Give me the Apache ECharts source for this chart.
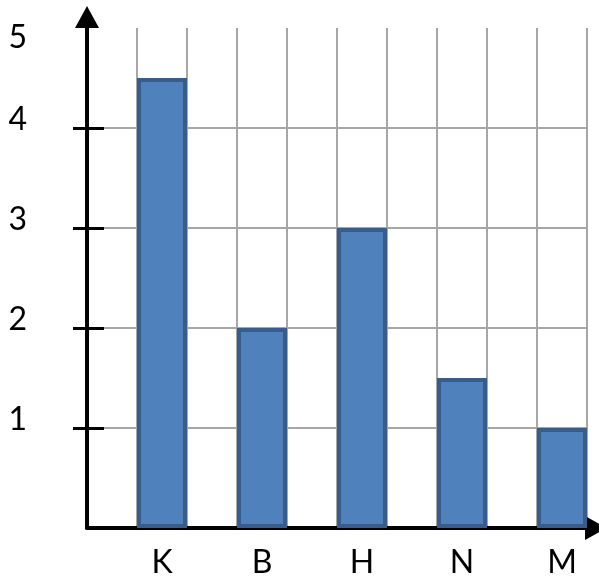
<!DOCTYPE html>
<html><head><meta charset="utf-8">
<script src="https://cdn.jsdelivr.net/npm/echarts@6/dist/echarts.min.js"></script>
<style>html,body{margin:0;padding:0;background:#fff}#c{width:599px;height:581px}</style>
</head><body><div id="c"></div>
<script>
const categories = ['K', 'B', 'H', 'N', 'M'];
const values = [4.5, 2, 3, 1.5, 1];
const yTickLabels = [1, 2, 3, 4, 5];
const yTicks = [1, 2, 3, 4];

// each category occupies two grid columns; bar centred in the second-and-first half
const xPos = categories.map((c, i) => 1.5 + 2 * i);
const barData = values.map((v, i) => [xPos[i], v]);

const chart = echarts.init(document.getElementById('c'), null, {renderer: 'canvas'});
const grey = '#a6a6a6';
const font = 'Lato';
chart.setOption({
  animation: false,
  grid: {left: 87, top: 28, width: 500, height: 500},
  xAxis: {
    type: 'value', min: 0, max: 10, interval: 1,
    axisLine: {show: true, lineStyle: {color: '#000', width: 4},
      symbol: ['none', 'triangle'], symbolSize: [24, 22], symbolOffset: [0, 9]},
    axisTick: {show: false},
    splitLine: {show: true, lineStyle: {color: grey, width: 2}},
    axisLabel: {
      customValues: xPos,
      formatter: v => categories[xPos.indexOf(v)] || '',
      color: '#000', fontFamily: font, fontSize: 32, margin: 19
    }
  },
  yAxis: [{
    type: 'value', min: 0, max: 5, interval: 0.5,
    axisLine: {show: true, lineStyle: {color: '#000', width: 4},
      symbol: ['none', 'triangle'], symbolSize: [24, 22], symbolOffset: [0, 11]},
    axisTick: {show: true, customValues: yTicks, length: 14, lineStyle: {color: '#000', width: 3}},
    splitLine: {show: true, lineStyle: {color: grey, width: 2}},
    axisLabel: {
      customValues: yTickLabels,
      formatter: v => v === 5 ? '{t|5}' : '{n|' + v + '}',
      margin: 60, align: 'right',
      rich: {
        n: {color: '#000', fontFamily: font, fontSize: 32, padding: [0, 0, 16, 0]},
        t: {color: '#000', fontFamily: font, fontSize: 32, padding: [19, 0, 0, 0]}
      }
    }
  }, {
    type: 'value', min: 0, max: 5, position: 'left',
    axisLine: {show: false},
    axisTick: {show: true, inside: true, customValues: yTicks, length: 17, lineStyle: {color: '#000', width: 3}},
    axisLabel: {show: false},
    splitLine: {show: false}
  }],
  series: [{
    type: 'bar', data: barData, barWidth: 50,
    itemStyle: {color: '#4f81bd', borderColor: '#385d8a', borderWidth: 4},
    z: 3
  }]
});
</script></body></html>
